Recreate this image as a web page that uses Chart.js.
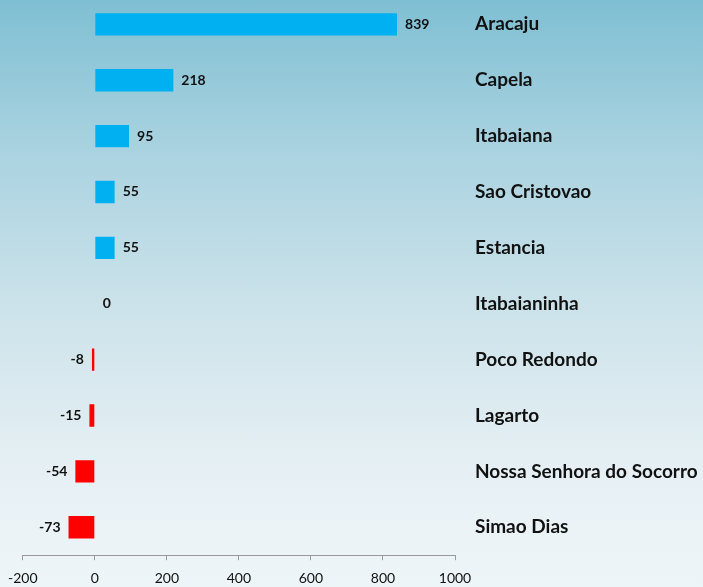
<!DOCTYPE html>
<html>
<head>
<meta charset="utf-8">
<script src="https://cdn.jsdelivr.net/npm/chart.js@4.4.1/dist/chart.umd.min.js"></script>
<style>
  html, body { margin: 0; padding: 0; }
  body {
    width: 703px; height: 587px; overflow: hidden; position: relative;
    background: linear-gradient(to bottom, #7fbfd3 0%, #a9d2e0 25%, #cfe4eb 55%, #e6f0f4 80%, #eef5f8 100%);
  }
  #wrap { position: absolute; left: -2px; top: -27px; width: 705px; height: 624px; }
</style>
</head>
<body>
<div id="wrap"><canvas id="c" width="705" height="624"></canvas></div>
<script>
const categories = ["Aracaju", "Capela", "Itabaiana", "Sao Cristovao", "Estancia", "Itabaianinha", "Poco Redondo", "Lagarto", "Nossa Senhora do Socorro", "Simao Dias"];
const values = [839, 218, 95, 55, 55, 0, -8, -15, -54, -73];
const xTicks = [-200, 0, 200, 400, 600, 800, 1000];

const FONT = "Lato, 'Liberation Sans', sans-serif";

const valueLabels = {
  id: 'valueLabels',
  afterDatasetsDraw(chart) {
    const ctx = chart.ctx;
    const meta = chart.getDatasetMeta(0);
    const xs = chart.scales.x;
    ctx.save();
    ctx.font = "bold 14px " + FONT;
    ctx.fillStyle = "#111";
    ctx.textBaseline = "middle";
    meta.data.forEach((bar, i) => {
      const v = values[i];
      const zero = xs.getPixelForValue(0);
      if (v >= 0) {
        ctx.textAlign = "left";
        ctx.fillText(String(v), Math.max(bar.x, zero) + 8, bar.y);
      } else {
        ctx.textAlign = "right";
        ctx.fillText(String(v), Math.min(bar.x, zero) - 8, bar.y);
      }
    });
    ctx.restore();
  }
};

new Chart(document.getElementById('c'), {
  type: 'bar',
  data: {
    labels: categories,
    datasets: [{
      data: values,
      backgroundColor: values.map(v => v >= 0 ? '#00b0f0' : '#ff0000'),
      borderWidth: 0,
      barPercentage: 0.4,
      categoryPercentage: 1.0
    }]
  },
  options: {
    indexAxis: 'y',
    responsive: false,
    animation: false,
    devicePixelRatio: 1,
    layout: { padding: { left: 21, right: 0, top: 0, bottom: 0 } },
    plugins: { legend: { display: false }, tooltip: { enabled: false } },
    scales: {
      x: {
        type: 'linear',
        min: -200, max: 1000,
        afterBuildTicks(scale) { scale.ticks = xTicks.map(v => ({ value: v })); },
        grid: { display: true, drawOnChartArea: false, drawTicks: true, tickLength: 5, color: '#9a9a9a' },
        border: { display: true, color: '#9a9a9a', width: 1 },
        ticks: { color: '#111', font: { family: FONT, size: 14 }, padding: 10, maxRotation: 0,
                 callback: (v) => String(v) }
      },
      y: {
        position: 'right',
        grid: { display: false },
        border: { display: false },
        ticks: { color: '#111', font: { family: FONT, size: 19, weight: 'bold' }, padding: 12 },
        afterFit(scale) { scale.width = 248; }
      }
    }
  },
  plugins: [valueLabels]
});
</script>
</body>
</html>
